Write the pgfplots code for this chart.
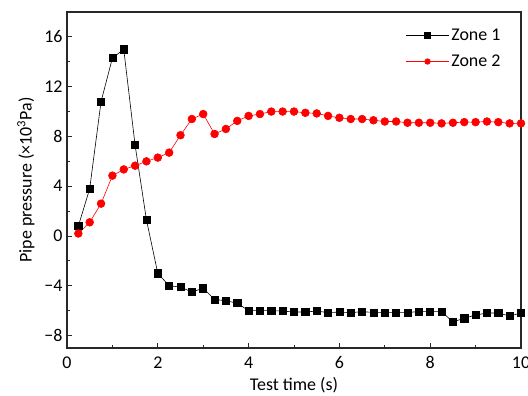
\documentclass[border=0pt]{standalone}
\usepackage{pgfplots}
\pgfplotsset{compat=1.18}
\usepackage{fontspec}
\setmainfont{Carlito}
\definecolor{zred}{RGB}{255,0,0}
\definecolor{axgray}{RGB}{40,40,40}
\begin{document}
\begin{tikzpicture}
\begin{axis}[
  scale only axis, width=454bp, height=336bp,
  at={(0,0)}, anchor=south west,
  xmin=0, xmax=10, ymin=-9, ymax=18,
  xtick={0,2,4,6,8,10}, minor xtick={1,3,5,7,9},
  ytick={-8,-4,0,4,8,12,16}, minor ytick={-6,-2,2,6,10,14},
  yticklabels={−8,−4,0,4,8,12,16},
  tick pos=left, tick align=inside,
  major tick length=5bp, minor tick length=3bp,
  axis line style={axgray, line width=1.1pt},
  every tick/.style={axgray, line width=0.9pt},
  /pgf/number format/assume math mode=true,
  tick label style={font=\fontsize{18}{21}\selectfont},
  label style={font=\fontsize{18}{21}\selectfont},
  xticklabel style={yshift=-5bp},
  yticklabel style={xshift=-1bp},
  xlabel={Test time (s)},
  ylabel={Pipe pressure (×10\textsuperscript{3}Pa)},
  xlabel style={yshift=-2bp},
  ylabel style={yshift=3bp},
  legend style={draw=none, fill=none, at={(0.739,0.962)}, anchor=north west,
    font=\fontsize{18}{21}\selectfont, row sep=9bp},
  legend cell align=left,
  legend image code/.code={
    \draw[#1, mark repeat=2, mark phase=2, mark size=2.8pt] plot coordinates {(0cm,0cm) (0.76cm,0cm) (1.52cm,0cm)};
  },
]
\addplot[black, line width=0.6pt, mark=square*, mark size=3.6pt, mark options={solid, black}] coordinates {
(0.25,0.8) (0.5,3.8) (0.75,10.8) (1.0,14.3) (1.25,15.0) (1.5,7.3) (1.75,1.3)
(2.0,-3.0) (2.25,-4.0) (2.5,-4.1) (2.75,-4.5) (3.0,-4.2) (3.25,-5.1) (3.5,-5.2)
(3.75,-5.4) (4.0,-6.0) (4.25,-6.0) (4.5,-6.0) (4.75,-6.03) (5.0,-6.11) (5.25,-6.11)
(5.5,-6.03) (5.75,-6.16) (6.0,-6.11) (6.25,-6.16) (6.5,-6.08) (6.75,-6.14) (7.0,-6.14)
(7.25,-6.14) (7.5,-6.14) (7.75,-6.08) (8.0,-6.08) (8.25,-6.08) (8.5,-6.9) (8.75,-6.61)
(9.0,-6.35) (9.25,-6.19) (9.5,-6.19) (9.75,-6.43) (10.0,-6.19)
};
\addlegendentry{Zone 1}
\addplot[zred, line width=0.6pt, mark=*, mark size=3.9pt, mark options={solid, zred}] coordinates {
(0.25,0.2) (0.5,1.1) (0.75,2.6) (1.0,4.85) (1.25,5.35) (1.5,5.65) (1.75,6.0)
(2.0,6.3) (2.25,6.7) (2.5,8.1) (2.75,9.4) (3.0,9.8) (3.25,8.2) (3.5,8.6)
(3.75,9.25) (4.0,9.65) (4.25,9.8) (4.5,10.0) (4.75,10.0) (5.0,10.0) (5.25,9.9)
(5.5,9.85) (5.75,9.65) (6.0,9.5) (6.25,9.4) (6.5,9.4) (6.75,9.3) (7.0,9.2)
(7.25,9.2) (7.5,9.1) (7.75,9.1) (8.0,9.1) (8.25,9.05) (8.5,9.1) (8.75,9.15)
(9.0,9.15) (9.25,9.2) (9.5,9.15) (9.75,9.05) (10.0,9.05)
};
\addlegendentry{Zone 2}
\end{axis}
\pgfresetboundingbox
\path (-67bp,-48bp) rectangle (461bp,348bp);
\end{tikzpicture}
\end{document}
